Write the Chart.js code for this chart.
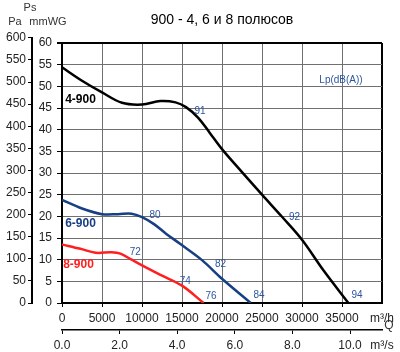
<!DOCTYPE html>
<html>
<head>
<meta charset="utf-8">
<script src="https://cdn.jsdelivr.net/npm/chart.js@4.4.1/dist/chart.umd.min.js"></script>
<style>
  html, body { margin: 0; padding: 0; background: #fff; }
  #wrap { width: 400px; height: 352px; }
</style>
</head>
<body>
<div id="wrap"><canvas id="fanChart" width="400" height="352"></canvas></div>
<script>
// ─── 900 FAN CURVES (4, 6, 8 poles) ──────────────────────────────────────
// Flow in m3/h on x, static pressure in mmWG on y; Pa and m3/s are
// secondary axes derived from the same scales.

var FONT = '"Liberation Sans", Arial, Helvetica, sans-serif';
var PA_PER_MM = 9.80665;

// tick values
var flowTicks = [0, 5000, 10000, 15000, 20000, 25000, 30000, 35000];
var flowMax = 40000;
var flowSecTicks = [0, 2, 4, 6, 8, 10];
var mmTicks = [0, 5, 10, 15, 20, 25, 30, 35, 40, 45, 50, 55, 60];
var paTicks = [0, 50, 100, 150, 200, 250, 300, 350, 400, 450, 500, 550, 600];

// 4-900
var q4 = [0, 2500, 5000, 7500, 10000, 12300, 14200, 15500, 17000, 18500, 20000, 22500, 25000, 27500, 30000, 32700, 35800];
var p4 = [54.4, 51.3, 48.6, 46.2, 45.8, 46.6, 46.3, 45.2, 42.8, 39.2, 35.5, 30.2, 25.0, 19.9, 14.6, 7.5, 0];
// 6-900
var q6 = [0, 2500, 5000, 7000, 8700, 10000, 11500, 13000, 14800, 17500, 20000, 23600];
var p6 = [23.8, 21.8, 20.5, 20.5, 20.6, 19.8, 18.2, 16.0, 13.6, 9.9, 5.6, 0];
// 8-900
var q8 = [0, 2300, 4200, 6200, 7300, 8700, 10000, 12300, 15000, 17700];
var p8 = [13.5, 12.5, 11.6, 11.7, 11.4, 10.0, 8.7, 6.5, 4.0, 0];

var curveNames = ['4-900', '6-900', '8-900'];
var curveColors = ['#000000', '#173f83', '#ff1f1f'];

// sound pressure levels written along the curves
var dbText = ['91', '92', '94', '80', '82', '84', '72', '74', '76'];
var dbQ    = [17250, 29060, 36875, 11625, 19810, 24625, 9160, 15410, 18625];
var dbP    = [44.3, 19.7, 1.85, 20.3, 8.9, 1.75, 11.8, 5.1, 1.6];

function pts(q, p) { return q.map(function(v, i) { return { x: v, y: p[i] }; }); }
function fixTicks(list) { return function(s) { s.ticks = list.map(function(v) { return { value: v }; }); }; }

var GRID = '#707070';

// Pa axis runs a bit higher than the mmWG box (600 Pa > 60 mmWG)
var paStretch = {
  id: 'paStretch',
  afterLayout: function(chart) {
    var s = chart.scales.pa, y = chart.scales.y;
    s.top = y.getPixelForValue(600 / PA_PER_MM);
    s.height = s.bottom - s.top;
    s.configure();
  }
};

var notes = {
  id: 'notes',
  afterDatasetsDraw: function(chart) {
    var ctx = chart.ctx, x = chart.scales.x, y = chart.scales.y;
    ctx.save();
    ctx.textBaseline = 'middle';
    // curve names
    ctx.font = 'bold 12px ' + FONT;
    ctx.textAlign = 'left';
    var nameQ = [400, 400, 150], nameP = [46.9, 18.2, 8.8];
    curveNames.forEach(function(n, i) {
      ctx.fillStyle = curveColors[i];
      ctx.fillText(n, x.getPixelForValue(nameQ[i]), y.getPixelForValue(nameP[i]));
    });
    // dB labels
    ctx.font = '10px ' + FONT;
    ctx.textAlign = 'center';
    ctx.fillStyle = '#2d55a0';
    dbText.forEach(function(t, i) {
      ctx.fillText(t, x.getPixelForValue(dbQ[i]), y.getPixelForValue(dbP[i]));
    });
    ctx.fillText('Lp(dB(A))', x.getPixelForValue(34875), y.getPixelForValue(51.5));
    // axis unit captions
    ctx.fillStyle = '#333';
    ctx.font = '11px ' + FONT;
    ctx.fillText('Ps', 30, 8);
    ctx.fillText('Pa', 15, 22);
    ctx.fillText('mmWG', 48, 22);
    ctx.font = '12px ' + FONT;
    ctx.fillText('Q', 389, 326);
    ctx.restore();
  }
};

new Chart(document.getElementById('fanChart'), {
  type: 'line',
  data: {
    datasets: [
      { label: curveNames[0], data: pts(q4, p4), borderColor: curveColors[0] },
      { label: curveNames[1], data: pts(q6, p6), borderColor: curveColors[1] },
      { label: curveNames[2], data: pts(q8, p8), borderColor: curveColors[2] }
    ]
  },
  options: {
    responsive: false,
    animation: false,
    layout: { padding: { left: 0, right: 18, top: 0, bottom: 0 } },
    elements: {
      line: { borderWidth: 2.5, tension: 0.35, fill: false },
      point: { radius: 0 }
    },
    plugins: {
      legend: { display: false },
      tooltip: { enabled: false },
      title: {
        display: true, fullSize: false,
        text: '900 - 4, 6 и 8 полюсов',
        color: '#000',
        font: { family: FONT, size: 14, weight: 'normal' },
        padding: { top: 12, bottom: 14.2 }
      }
    },
    scales: {
      x: {
        type: 'linear', position: 'bottom', min: 0, max: flowMax,
        afterBuildTicks: fixTicks(flowTicks.concat([flowMax])),
        afterFit: function(s) { s.height = 27; },
        grid: {
          color: function(c) { return c.tick && c.tick.value === flowMax ? '#000' : GRID; },
          lineWidth: function(c) { return c.tick && c.tick.value === flowMax ? 2 : 1; },
          tickColor: function(c) { return c.tick && c.tick.value === flowMax ? 'rgba(0,0,0,0)' : '#000'; },
          tickLength: 4
        },
        border: { color: '#000', width: 2 },
        ticks: {
          autoSkip: false, maxRotation: 0, padding: 4, color: '#222',
          font: { family: FONT, size: 12 },
          callback: function(v) { return v === flowMax ? 'm³/h' : String(v); }
        }
      },
      x2: {
        type: 'linear', position: 'bottom', weight: 1, min: 0, max: flowMax / 3600,
        afterBuildTicks: fixTicks(flowSecTicks.concat([flowMax / 3600])),
        afterFit: function(s) { s.height = 22; },
        grid: {
          drawOnChartArea: false, tickLength: 4,
          tickColor: function(c) { return c.tick && c.tick.value > 10 ? 'rgba(0,0,0,0)' : '#000'; }
        },
        border: { color: '#000', width: 1.5 },
        ticks: {
          autoSkip: false, maxRotation: 0, padding: 4, color: '#222',
          font: { family: FONT, size: 12 },
          callback: function(v) { return v > 10 ? 'm³/s' : v.toFixed(1); }
        }
      },
      y: {
        type: 'linear', position: 'left', min: 0, max: 60,
        afterBuildTicks: fixTicks(mmTicks),
        afterFit: function(s) { s.width = 30; },
        grid: {
          color: function(c) { return c.tick && c.tick.value === 60 ? '#000' : GRID; },
          lineWidth: function(c) { return c.tick && c.tick.value === 60 ? 2 : 1; },
          tickColor: '#000', tickLength: 5
        },
        border: { color: '#000', width: 2 },
        ticks: { autoSkip: false, padding: 5, color: '#222', font: { family: FONT, size: 12 } }
      },
      pa: {
        type: 'linear', position: 'left', weight: 1, min: 0, max: 600,
        afterBuildTicks: fixTicks(paTicks),
        afterFit: function(s) { s.width = 32; },
        grid: { drawOnChartArea: false, tickColor: '#000', tickLength: 4 },
        border: { color: '#000', width: 2 },
        ticks: { autoSkip: false, padding: 2, color: '#222', font: { family: FONT, size: 12 } }
      }
    }
  },
  plugins: [paStretch, notes]
});
</script>
</body>
</html>
